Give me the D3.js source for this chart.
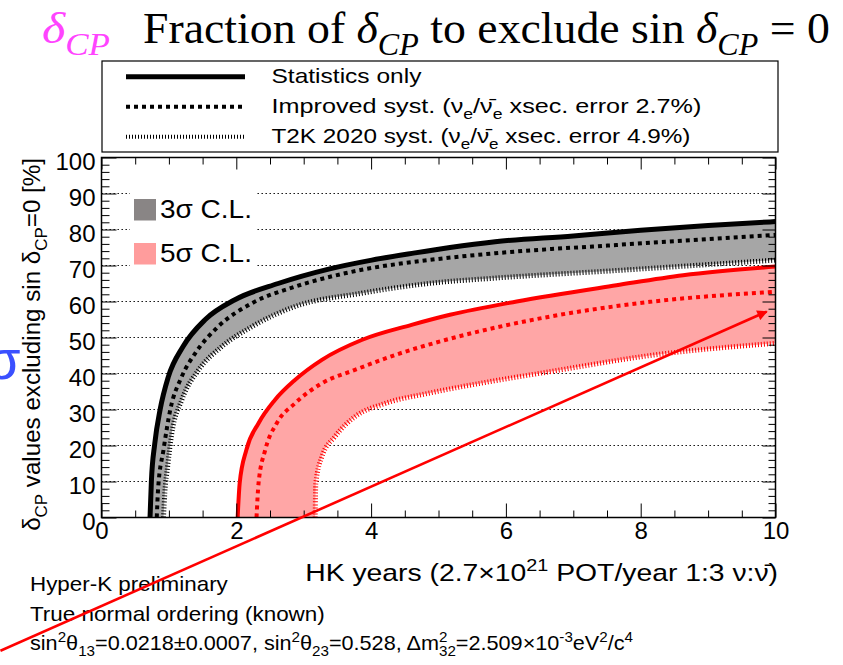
<!DOCTYPE html>
<html>
<head>
<meta charset="utf-8">
<script src="https://cdn.jsdelivr.net/npm/d3@7"></script>
<style>
body { margin: 0; background: #fff; }
svg { display: block; }
text { font-family: "Liberation Sans", Arial, Helvetica, sans-serif; }
.serif { font-family: "Liberation Serif", "Times New Roman", serif; }
</style>
</head>
<body>
<div id="chart"></div>
<script>
// 3 sigma C.L. curves (black), HK years vs % of delta_CP values
var stats3Years = [0.72, 0.74, 0.79, 0.87, 0.99, 1.21, 1.54, 1.98, 2.62, 3.37, 4.01, 4.65, 5.17, 5.84, 7.0, 8.0, 9.0, 10];
var stats3Pct   = [0, 10, 20.5, 30, 39, 47.5, 55, 60.5, 65, 69, 71.5, 73.5, 75, 76.6, 78.2, 79.8, 81.1, 82.2];
var improved3Years = [0.82, 0.84, 0.92, 1.02, 1.19, 1.39, 1.73, 2.23, 2.87, 3.86, 4.85, 5.84, 7.64, 10];
var improved3Pct   = [0, 8, 18.8, 29.9, 39.1, 45.6, 53, 59.5, 64.1, 68.8, 71.5, 73.4, 75.7, 78.5];
var t2k3Years = [0.92, 0.94, 0.98, 1.04, 1.19, 1.44, 1.78, 2.23, 2.87, 3.86, 4.85, 5.84, 7.64, 10];
var t2k3Pct   = [0, 7, 14, 23, 32.6, 41, 47.4, 53, 58.6, 62.3, 65, 66.5, 68.6, 71.5];

// 5 sigma C.L. curves (red)
var stats5Years = [2.02, 2.05, 2.15, 2.33, 2.57, 2.87, 3.27, 3.86, 4.6, 5.17, 6.16, 7.64, 8.63, 10];
var stats5Pct   = [0, 9.5, 18.8, 26.2, 32.6, 38.2, 43.8, 49.3, 53.5, 56.3, 60, 64.5, 67.3, 69.7];
var improved5Years = [2.3, 2.33, 2.43, 2.6, 2.87, 3.27, 3.76, 4.35, 5.1, 6.65, 8.14, 10];
var improved5Pct   = [0, 9.5, 18.8, 26.2, 31.7, 37.3, 41, 45.1, 49.3, 55.8, 59.9, 62.7];
var t2k5Years = [3.17, 3.18, 3.27, 3.46, 3.76, 4.21, 4.85, 5.84, 6.65, 8.14, 10];
var t2k5Pct   = [0, 9.5, 16.9, 22.4, 28, 31.7, 34.5, 38, 40.5, 45, 48.4];

var xTicks = [0, 2, 4, 6, 8, 10];
var yTicks = [0, 10, 20, 30, 40, 50, 60, 70, 80, 90, 100];
var gridPct = [10, 20, 30, 40, 50, 60, 70, 80, 90];

// red annotation arrow drawn on the slide (data units: years, %)
var arrowFrom = [-1.5, -37];
var arrowTo = [9.87, 57.2];

var width = 843, height = 665;

var svg = d3.select("#chart").append("svg")
    .attr("width", width)
    .attr("height", height);

svg.append("rect").attr("width", width).attr("height", height).attr("fill", "#fff");

var x = d3.scaleLinear().domain([0, 10]).range([101.5, 775.5]);
var y = d3.scaleLinear().domain([0, 100]).range([517.5, 157.5]);

function pts(xs, ys) {
    return xs.map(function(v, i) { return [v, ys[i]]; });
}

var line = d3.line()
    .x(function(d) { return x(d[0]); })
    .y(function(d) { return y(d[1]); })
    .curve(d3.curveMonotoneX);

function bandPath(top, bottom) {
    var a = line(top);
    var b = line(bottom.slice().reverse());
    return a + "L" + b.slice(1) + "Z";
}

// scale a text horizontally so it covers the measured width
function fitText(t, w) {
    var len = t.node().getComputedTextLength();
    var x0 = +t.attr("x") || 0;
    t.attr("transform", "translate(" + x0 + ",0) scale(" + (w / len) + ",1) translate(" + (-x0) + ",0)");
}

// parts: {t, s: "sup"/"sub", i: italic, dx}
function rich(t, parts, size) {
    var prev = 0;
    parts.forEach(function(p) {
        var off = p.s == "sup" ? -0.42 * size : p.s == "sub" ? 0.28 * size : 0;
        var ts = t.append("tspan").attr("dy", off - prev).text(p.t);
        prev = off;
        if (p.s) ts.attr("font-size", size * 0.7);
        if (p.i) ts.attr("font-style", "italic");
        if (p.dx) ts.attr("dx", p.dx);
    });
}

// blue glyph from the slide behind
svg.append("text")
    .attr("x", -14).attr("y", 379)
    .attr("font-family", "DejaVu Sans")
    .attr("font-size", 56)
    .attr("fill", "#3a50ff")
    .text("σ");

// title
var pink = svg.append("text").attr("class", "serif").attr("x", 42).attr("y", 43)
    .attr("font-size", 44).attr("fill", "#ff44ff");
rich(pink, [{t: "δ", i: true}, {t: "CP", s: "sub", i: true}], 44);
fitText(pink, 68);

var title = svg.append("text").attr("class", "serif").attr("x", 143).attr("y", 43)
    .attr("font-size", 44).attr("fill", "#000");
rich(title, [
    {t: "Fraction of "}, {t: "δ", i: true}, {t: "CP", s: "sub", i: true},
    {t: " to exclude sin "}, {t: "δ", i: true}, {t: "CP", s: "sub", i: true},
    {t: " = 0"}
], 44);
fitText(title, 687);

// grid
svg.append("g").selectAll("line")
    .data(gridPct)
    .enter().append("line")
    .attr("x1", x(0)).attr("x2", x(10))
    .attr("y1", function(d) { return y(d); })
    .attr("y2", function(d) { return y(d); })
    .attr("stroke", "#000")
    .attr("stroke-width", 1)
    .attr("stroke-dasharray", "1.4,2.6");

// in-plot legend background
svg.append("rect")
    .attr("x", 130).attr("y", 172).attr("width", 126).attr("height", 116)
    .attr("fill", "#fff");

// bands
svg.append("path")
    .attr("d", bandPath(pts(stats3Years, stats3Pct), pts(t2k3Years, t2k3Pct)))
    .attr("fill", "#a6a6a6");
svg.append("path")
    .attr("d", bandPath(pts(stats5Years, stats5Pct), pts(t2k5Years, t2k5Pct)))
    .attr("fill", "#ffa6a6");

var curves = [
    { data: pts(t2k3Years, t2k3Pct), color: "#000", w: 5, dash: "1,2" },
    { data: pts(improved3Years, improved3Pct), color: "#000", w: 4, dash: "4,4" },
    { data: pts(stats3Years, stats3Pct), color: "#000", w: 5, dash: null },
    { data: pts(t2k5Years, t2k5Pct), color: "#ff0000", w: 5, dash: "1,2" },
    { data: pts(improved5Years, improved5Pct), color: "#ff0000", w: 4, dash: "4,4" },
    { data: pts(stats5Years, stats5Pct), color: "#ff0000", w: 4, dash: null }
];

svg.append("g").selectAll("path")
    .data(curves)
    .enter().append("path")
    .attr("d", function(d) { return line(d.data); })
    .attr("fill", "none")
    .attr("stroke", function(d) { return d.color; })
    .attr("stroke-width", function(d) { return d.w; })
    .attr("stroke-dasharray", function(d) { return d.dash; });

// axes
var yMinor = d3.range(0, 101, 2).filter(function(v) { return v % 10 != 0; });
var xMinor = d3.range(0, 10.01, 0.5).filter(function(v) { return v % 2 != 0; });

function styleAxis(g) {
    g.select(".domain").remove();
    g.selectAll("line").attr("stroke", "#000").attr("stroke-width", 1);
    g.selectAll("text").attr("font-size", 24).attr("fill", "#000")
        .attr("font-family", "Liberation Sans, Arial, sans-serif");
}

svg.append("g").attr("transform", "translate(" + x(0) + ",0)")
    .call(d3.axisLeft(y).tickValues(yTicks).tickSize(-15).tickPadding(6))
    .call(styleAxis)
    .selectAll("text").attr("dy", "0.5em");
svg.append("g").attr("transform", "translate(" + x(0) + ",0)")
    .call(d3.axisLeft(y).tickValues(yMinor).tickSize(-8).tickFormat(""))
    .call(styleAxis);
svg.append("g").attr("transform", "translate(" + x(10) + ",0)")
    .call(d3.axisRight(y).tickValues(yTicks).tickSize(-13).tickFormat(""))
    .call(styleAxis);
svg.append("g").attr("transform", "translate(" + x(10) + ",0)")
    .call(d3.axisRight(y).tickValues(yMinor).tickSize(-7).tickFormat(""))
    .call(styleAxis);

svg.append("g").attr("transform", "translate(0," + y(0) + ")")
    .call(d3.axisBottom(x).tickValues(xTicks).tickSize(-14).tickPadding(4.5))
    .call(styleAxis);
svg.append("g").attr("transform", "translate(0," + y(0) + ")")
    .call(d3.axisBottom(x).tickValues(xMinor).tickSize(-7).tickFormat(""))
    .call(styleAxis);
svg.append("g").attr("transform", "translate(0," + y(100) + ")")
    .call(d3.axisTop(x).tickValues(xTicks).tickSize(-12).tickFormat(""))
    .call(styleAxis);
svg.append("g").attr("transform", "translate(0," + y(100) + ")")
    .call(d3.axisTop(x).tickValues(xMinor).tickSize(-7).tickFormat(""))
    .call(styleAxis);

// frame
svg.append("rect")
    .attr("x", x(0)).attr("y", y(100))
    .attr("width", x(10) - x(0)).attr("height", y(0) - y(100))
    .attr("fill", "none").attr("stroke", "#000").attr("stroke-width", 1.5);

// axis titles
var xTitle = svg.append("text").attr("x", 778).attr("y", 581)
    .attr("font-size", 24).attr("text-anchor", "end");
rich(xTitle, [
    {t: "HK years (2.7×10"}, {t: "21", s: "sup"}, {t: " POT/year 1:3 ν:ν\u0304)"}
], 24);
fitText(xTitle, 473);

var yTitleG = svg.append("g").attr("transform", "translate(40,158) rotate(-90)");
var yTitle = yTitleG.append("text").attr("x", 0).attr("y", 0)
    .attr("font-size", 24).attr("text-anchor", "end");
rich(yTitle, [
    {t: "δ"}, {t: "CP", s: "sub"}, {t: " values excluding sin δ"}, {t: "CP", s: "sub"}, {t: "=0 [%]"}
], 24);
fitText(yTitle, 373);

// top legend
svg.append("rect")
    .attr("x", 102).attr("y", 61).attr("width", 676).attr("height", 91)
    .attr("fill", "#fff").attr("stroke", "#000").attr("stroke-width", 1.2);

var legendStyles = [
    { w: 5, dash: null },
    { w: 4, dash: "4,4" },
    { w: 4, dash: "1,2" }
];
var legendLabels = [
    [{t: "Statistics only"}],
    [{t: "Improved syst. (ν"}, {t: "e", s: "sub"}, {t: "/ν\u0304"}, {t: "e", s: "sub"}, {t: " xsec. error 2.7%)"}],
    [{t: "T2K 2020 syst. (ν"}, {t: "e", s: "sub"}, {t: "/ν\u0304"}, {t: "e", s: "sub"}, {t: " xsec. error 4.9%)"}]
];
var legendLineY = [76.7, 106.7, 136.7];
var legendTextY = [83.3, 113.3, 142.7];
var legendTextW = [150, 430, 419];

legendStyles.forEach(function(s, i) {
    svg.append("line")
        .attr("x1", 126).attr("x2", 245)
        .attr("y1", legendLineY[i]).attr("y2", legendLineY[i])
        .attr("stroke", "#000").attr("stroke-width", s.w)
        .attr("stroke-dasharray", s.dash);
    var t = svg.append("text").attr("x", 271.5).attr("y", legendTextY[i]).attr("font-size", 21);
    rich(t, legendLabels[i], 21);
    fitText(t, legendTextW[i]);
});

// C.L. legend
var clLabels = ["3σ C.L.", "5σ C.L."];
var clColors = ["#898585", "#ff9c9c"];
var clY = [199, 243];
clLabels.forEach(function(lab, i) {
    svg.append("rect").attr("x", 134).attr("y", clY[i]).attr("width", 22).attr("height", 21.5)
        .attr("fill", clColors[i]);
    var t = svg.append("text").attr("x", 160).attr("y", clY[i] + 19.3).attr("font-size", 25).text(lab);
    fitText(t, 92);
});

// bottom-left notes
var notes = [
    [{t: "Hyper-K preliminary"}],
    [{t: "True normal ordering (known)"}],
    [{t: "sin"}, {t: "2", s: "sup"}, {t: "θ"}, {t: "13", s: "sub"}, {t: "=0.0218±0.0007, sin"}, {t: "2", s: "sup"},
     {t: "θ"}, {t: "23", s: "sub"}, {t: "=0.528, Δm"}, {t: "2", s: "sup"}, {t: "32", s: "sub", dx: -7.8},
     {t: "=2.509×10"}, {t: "-3", s: "sup"}, {t: "eV"}, {t: "2", s: "sup"}, {t: "/c"}, {t: "4", s: "sup"}]
];
var notesY = [591, 621, 650];
var notesW = [198, 295, 612];
notes.forEach(function(parts, i) {
    var t = svg.append("text").attr("x", 30).attr("y", notesY[i]).attr("font-size", 20);
    rich(t, parts, 20);
    fitText(t, notesW[i]);
});

// red arrow on top of everything
svg.append("defs").append("marker")
    .attr("id", "head")
    .attr("viewBox", "0 0 10 10")
    .attr("refX", 9).attr("refY", 5)
    .attr("markerWidth", 5).attr("markerHeight", 4)
    .attr("orient", "auto")
    .append("path").attr("d", "M0,0L10,5L0,10Z").attr("fill", "#ff0000");

svg.append("line")
    .attr("x1", x(arrowFrom[0])).attr("y1", y(arrowFrom[1]))
    .attr("x2", x(arrowTo[0])).attr("y2", y(arrowTo[1]))
    .attr("stroke", "#ff0000").attr("stroke-width", 2.6)
    .attr("marker-end", "url(#head)");
</script>
</body>
</html>
